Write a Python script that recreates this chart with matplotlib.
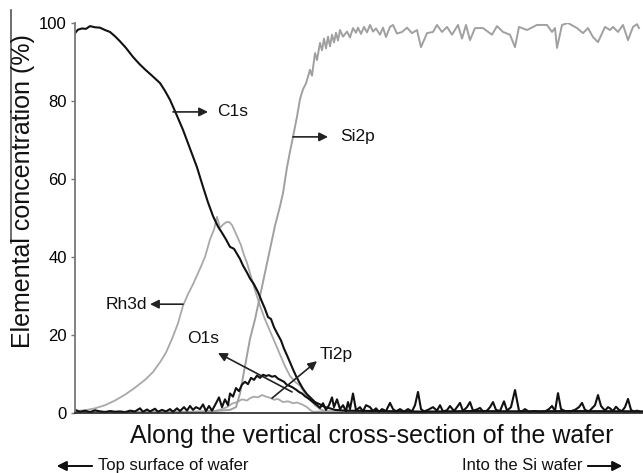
import matplotlib
matplotlib.use("Agg")
import matplotlib.pyplot as plt
from matplotlib.lines import Line2D

plt.rcParams['font.family'] = ['Liberation Sans', 'DejaVu Sans']

# depth position along the cross-section (arbitrary units) and concentration (%)
c1s_x = [75, 78, 82, 86, 90, 95, 100, 105, 110, 115, 120, 126, 133, 139, 145, 152, 160, 165, 170,
         176, 183, 190, 197, 203, 208, 213, 218, 222, 226, 230, 234, 237, 240, 243, 247, 250, 254,
         258, 262, 265, 268, 271, 274, 277, 281, 284, 287, 290, 293, 296, 299, 303, 307, 311, 315,
         320, 325, 330, 335, 345, 380, 420, 470, 520, 570, 642]
c1s_y = [97.4, 98.3, 98.6, 98.5, 99.2, 98.9, 98.8, 98.2, 97.7, 96.6, 95.3, 93.6, 91.3, 89.6, 88.1,
         86.5, 84.6, 82.6, 80.3, 76.8, 72.6, 67.8, 63.0, 58.0, 54.0, 50.5, 47.8, 46.2, 44.5, 42.6,
         42.1, 40.8, 39.5, 37.8, 36.0, 34.5, 33.0, 31.0, 28.5, 26.7, 24.6, 24.1, 22.0, 20.5, 18.6,
         16.5, 14.8, 13.0, 11.2, 9.5, 8.0, 6.2, 4.8, 3.8, 2.8, 2.2, 1.5, 1.2, 0.8, 0.6, 0.5, 0.3,
         0.5, 0.4, 0.5, 0.4]

si2p_x = [75, 100, 130, 160, 190, 215, 230, 236, 240, 245, 250, 255, 260, 265, 270, 275, 280, 283,
          287, 290, 293, 297, 300, 303, 306, 310, 312, 315, 317, 320, 322, 324, 326, 328, 330, 332,
          334, 336, 338, 340, 343, 347, 350, 353, 356, 358, 361, 364, 367, 370, 373, 376, 380, 383,
          386, 390, 393, 397, 402, 407, 412, 417, 421, 427, 433, 437, 442, 447, 452, 458, 462, 466,
          470, 475, 483, 492, 497, 503, 510, 515, 519, 527, 537, 547, 552, 555, 557, 562, 568, 577,
          583, 588, 593, 598, 605, 610, 613, 618, 623, 628, 633, 637, 639]
si2p_y = [0.3, 0.4, 0.3, 0.4, 0.3, 0.5, 0.8, 1.5, 5.0, 12.0, 19.0, 24.0, 30.0, 36.0, 42.0, 48.0,
          53.0, 56.4, 63.0, 67.0, 70.8, 76.0, 80.5, 83.0, 84.5, 88.0, 86.5, 92.3, 90.5, 94.9, 93.0,
          96.0, 93.5, 96.5, 94.0, 97.0, 95.0, 97.5, 95.5, 98.2, 96.5, 97.8, 96.3, 98.7, 97.5, 98.8,
          97.2, 99.0, 97.6, 99.5, 97.8, 98.6, 97.0, 98.8, 96.4, 99.0, 99.5, 97.3, 97.7, 98.8, 97.4,
          98.2, 93.8, 97.4, 97.7, 99.5, 97.7, 99.0, 97.0, 99.5, 96.0, 99.5, 95.6, 98.7, 98.7, 97.0,
          99.2, 97.7, 97.0, 93.8, 99.0, 98.2, 99.5, 99.5, 97.7, 98.7, 93.6, 99.5, 100.0, 98.7, 97.4,
          98.7, 96.4, 95.1, 99.0, 98.2, 99.0, 97.7, 99.5, 95.6, 99.0, 99.7, 98.7]

rh3d_x = [75, 85, 95, 105, 115, 125, 135, 145, 153, 160, 166, 172, 178, 183, 188, 193, 200, 205,
          210, 214, 217, 220, 223, 226, 229, 232, 235, 238, 241, 244, 247, 251, 255, 260, 265, 270,
          275, 280, 285, 290, 295, 300, 305, 310, 315, 320, 325, 330, 340]
rh3d_y = [0.5, 0.7, 1.2, 2.0, 3.2, 4.7, 6.5, 8.5, 10.5, 13.0, 15.5, 19.0, 23.0, 27.5, 30.5, 33.0,
          37.0, 40.0, 44.5, 47.0, 50.3, 47.5, 48.3, 48.9, 49.0, 48.2, 46.5, 44.8, 43.0, 40.5, 38.5,
          35.0, 31.5, 27.5, 24.0, 21.0, 18.0, 15.0, 12.0, 9.5, 8.0, 7.0, 5.0, 3.5, 2.0, 1.0, 0.5,
          0.3, 0.2]

ti2p_x = [200, 215, 222, 227, 232, 237, 242, 247, 250, 254, 258, 262, 266, 270, 274, 278, 283,
          288, 293, 297, 302, 307, 310, 313, 330, 360, 400, 440, 500, 560, 600, 642]
ti2p_y = [0.3, 0.5, 1.0, 1.5, 2.4, 2.8, 3.5, 3.2, 3.8, 4.2, 4.0, 4.6, 4.2, 3.9, 3.4, 3.6, 2.8, 3.0,
          2.5, 2.7, 2.2, 1.5, 0.8, 0.3, 0.5, 0.3, 0.6, 0.4, 0.5, 0.4, 0.5, 0.4]

o1s_x = [75, 80, 85, 90, 95, 100, 105, 110, 115, 120, 125, 130, 135, 140, 143, 147, 150, 155, 158,
         162, 166, 170, 173, 177, 180, 184, 187, 190, 193, 196, 200, 203, 206, 209, 212, 216, 219,
         222, 225, 228, 230, 233, 236, 239, 242, 245, 248, 251, 254, 257, 260, 263, 266, 269, 272,
         275, 278, 281, 284, 287, 290, 293, 296, 299, 302, 305, 308, 311, 314, 317, 320, 323, 326,
         329, 332, 334, 337, 340, 343, 346, 348, 350, 353, 356, 360, 363, 366, 370, 373, 376, 379,
         382, 386, 390, 393, 396, 400, 404, 408, 412, 415, 418, 421, 424, 428, 433, 437, 440, 443,
         447, 450, 454, 457, 460, 463, 467, 470, 473, 477, 480, 483, 487, 490, 493, 496, 500, 504,
         507, 511, 515, 519, 522, 525, 529, 534, 540, 545, 549, 552, 555, 558, 561, 565, 570, 575,
         579, 582, 585, 589, 592, 595, 598, 601, 605, 608, 610, 613, 616, 619, 622, 625, 628, 631,
         634, 637, 640]
o1s_y = [0.8, 0.3, 0.6, 0.2, 0.7, 0.4, 0.2, 0.5, 0.3, 0.4, 0.2, 0.6, 0.4, 1.2, 0.3, 0.9, 0.4,
         1.1, 0.3, 0.8, 0.4, 1.0, 0.3, 1.2, 0.5, 1.5, 0.6, 1.8, 0.8, 1.5, 1.0, 2.2, 0.5, 1.8, 0.6,
         2.5, 4.0, 1.5, 3.5, 2.0, 5.0, 4.2, 6.4, 5.6, 7.3, 8.0, 7.4, 9.0, 8.5, 9.6, 9.0, 9.8, 9.5,
         9.7, 9.3, 9.5, 8.8, 8.4, 8.0, 7.2, 6.9, 6.5, 6.0, 5.4, 5.0, 4.3, 3.8, 3.2, 2.6, 2.0, 1.3,
         2.5, 0.8, 2.0, 4.0, 1.5, 3.5, 1.0, 2.0, 0.5, 2.8, 1.0, 5.0, 0.7, 1.5, 0.4, 2.0, 1.5, 0.5,
         1.2, 0.3, 1.0, 0.5, 2.6, 1.0, 0.4, 1.0, 0.3, 1.0, 0.4, 2.0, 5.4, 1.0, 0.4, 0.8, 1.5, 0.6,
         2.0, 0.4, 0.7, 1.8, 0.5, 1.5, 2.6, 0.5, 1.5, 2.8, 0.6, 0.9, 1.3, 0.4, 0.6, 1.5, 2.8, 0.8,
         0.5, 3.0, 0.6, 1.5, 5.9, 0.6, 0.4, 1.0, 0.3, 0.5, 0.3, 0.4, 1.0, 1.8, 0.5, 5.1, 1.0, 0.5,
         0.4, 0.8, 1.5, 2.6, 0.8, 0.4, 1.2, 2.0, 4.6, 1.8, 0.6, 1.5, 1.2, 0.5, 1.6, 0.8, 0.5, 1.5,
         3.6, 0.8, 0.3, 0.6, 0.3]

y_ticks = [0, 20, 40, 60, 80, 100]

fig = plt.figure(figsize=(6.43, 4.73), dpi=100)
ax = fig.add_axes([75 / 643, 60 / 473, 568 / 643, 390 / 473])

gray = '#a0a0a0'
ax.plot(rh3d_x, rh3d_y, color='#a8a8a8', lw=1.3)
ax.plot(ti2p_x, ti2p_y, color='#a8a8a8', lw=1.3)
ax.plot(si2p_x, si2p_y, color=gray, lw=1.4)
ax.plot(o1s_x, o1s_y, color='#111111', lw=1.5)
ax.plot(c1s_x, c1s_y, color='#111111', lw=1.5)

ax.set_xlim(75, 643)
ax.set_ylim(0, 100)
ax.set_yticks(y_ticks)
ax.set_xticks([])
ax.tick_params(axis='y', length=3, width=1, color='#777777', pad=3, labelsize=12)
ax.spines['top'].set_visible(False)
ax.spines['right'].set_visible(False)
ax.spines['left'].set_color('#777777')
ax.spines['left'].set_linewidth(1.3)
ax.spines['bottom'].set_color('#222222')
ax.spines['bottom'].set_linewidth(1.2)

# curve labels with arrows
arrow = dict(arrowstyle='-|>', color='#222222', lw=1.2, mutation_scale=13, shrinkA=0, shrinkB=0)
labels = [
    ('C1s', (173, 77.2), (208, 77.2), (217, 77.2), 'left'),
    ('Si2p', (293, 70.8), (328, 70.8), (340, 70.8), 'left'),
    ('Rh3d', (183, 27.9), (150, 27.9), (147, 27.9), 'right'),
    ('O1s', (292, 5.4), (218, 15.4), (203, 19.2), 'center'),
    ('Ti2p', (272, 3.8), (317, 13.3), (320, 14.9), 'left'),
]
for name, tail, head, pos, ha in labels:
    ax.annotate('', xy=head, xytext=tail, arrowprops=arrow)
    ax.text(pos[0], pos[1], name, ha=ha, va='center', fontsize=12.5, color='#111111')

fig.text(23 / 643, 1 - 191 / 473, 'Elemental concentration (%)', rotation=90,
         ha='center', va='center', fontsize=18, color='#111111')
fig.add_artist(Line2D([11 / 643, 11 / 643], [1 - 10 / 473, 1 - 243 / 473],
                      color='#555555', lw=1.2))
fig.text(372 / 643, 30 / 473, 'Along the vertical cross-section of the wafer',
         ha='center', va='baseline', fontsize=18, color='#111111')

fig.text(98 / 643, 3 / 473, 'Top surface of wafer', ha='left', va='baseline',
         fontsize=12, color='#111111')
fig.text(582 / 643, 3 / 473, 'Into the Si wafer', ha='right', va='baseline',
         fontsize=12, color='#111111')
bottom_arrow = dict(arrowstyle='-|>', color='#111111', lw=1.3, mutation_scale=14,
                    shrinkA=0, shrinkB=0)
fig.add_artist(plt.annotate('', xy=(57 / 643, 7 / 473), xytext=(92 / 643, 7 / 473),
                            xycoords='figure fraction', arrowprops=bottom_arrow))
fig.add_artist(plt.annotate('', xy=(622 / 643, 7 / 473), xytext=(588 / 643, 7 / 473),
                            xycoords='figure fraction', arrowprops=bottom_arrow))

fig.savefig('out.png', dpi=100)
